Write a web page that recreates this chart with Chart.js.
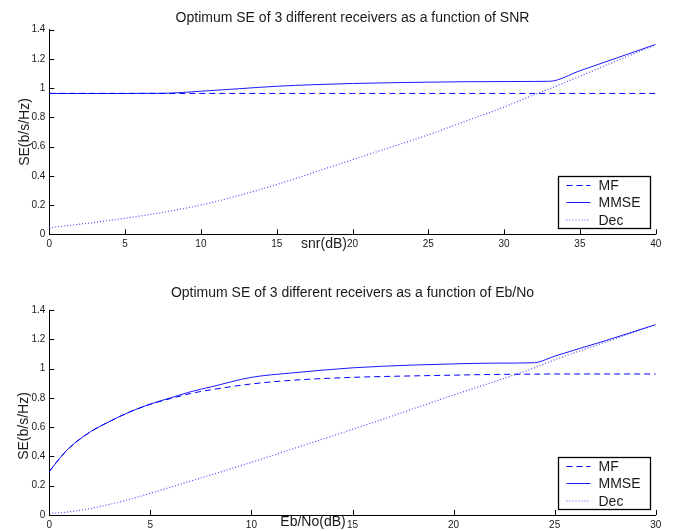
<!DOCTYPE html>
<html>
<head>
<meta charset="utf-8">
<script src="https://cdn.jsdelivr.net/npm/chart.js@4.4.1/dist/chart.umd.min.js"></script>
<style>
  html, body { margin: 0; padding: 0; background: #fff; }
  #wrap { position: relative; width: 674px; height: 531px; }
  canvas { position: absolute; left: 0; }
</style>
</head>
<body>
<div id="wrap">
  <canvas id="topChart" width="674" height="280" style="top:0"></canvas>
  <canvas id="bottomChart" width="674" height="251" style="top:280px"></canvas>
</div>
<script>
// ---- data ----
const seriesNames = ['MF', 'MMSE', 'Dec'];

// top plot: SE vs snr(dB)
const snrDb = [0, 2.5, 5, 7.5, 10, 12.5, 15, 17.5, 20, 22.5, 25, 27.5, 30, 32, 33, 35, 37.5, 40];
const mfSnr = [0.963, 0.963, 0.963, 0.963, 0.963, 0.963, 0.963, 0.963, 0.963, 0.963, 0.963, 0.963, 0.963, 0.963, 0.963, 0.963, 0.963, 0.963];
const mmseSnr = [0.963, 0.963, 0.963, 0.964, 0.978, 0.995, 1.012, 1.023, 1.031, 1.036, 1.040, 1.043, 1.044, 1.045, 1.046, 1.118, 1.208, 1.298];
const decSnr = [0.045, 0.075, 0.11, 0.15, 0.20, 0.265, 0.34, 0.425, 0.51, 0.595, 0.68, 0.775, 0.87, 0.955, 0.995, 1.08, 1.19, 1.295];

// bottom plot: SE vs Eb/No(dB)
const ebNoDb = [0, 0.5, 1, 2, 3, 4, 5, 6, 7, 8, 10, 12, 15, 18, 20, 22, 24, 25, 27.5, 30];
const mfEbNo = [0.296, 0.385, 0.46, 0.565, 0.64, 0.705, 0.756, 0.795, 0.83, 0.855, 0.895, 0.92, 0.94, 0.95, 0.955, 0.96, 0.962, 0.963, 0.963, 0.963];
const mmseEbNo = [0.296, 0.385, 0.46, 0.565, 0.64, 0.705, 0.758, 0.80, 0.842, 0.875, 0.94, 0.97, 1.005, 1.024, 1.032, 1.037, 1.04, 1.085, 1.19, 1.30];
const decEbNo = [0.011, 0.015, 0.022, 0.043, 0.073, 0.108, 0.148, 0.19, 0.232, 0.274, 0.36, 0.45, 0.585, 0.725, 0.82, 0.91, 1.005, 1.06, 1.18, 1.30];

// tick labels
const snrTicks = ['0', '5', '10', '15', '20', '25', '30', '35', '40'];
const ebNoTicks = ['0', '5', '10', '15', '20', '25', '30'];
const seTicks = ['0', '0.2', '0.4', '0.6', '0.8', '1', '1.2', '1.4'];

const FONT = '"Liberation Sans", Arial, Helvetica, sans-serif';
const INK = '#1a1a1a';

function pts(xs, ys) {
  return xs.map((x, i) => ({ x: x, y: ys[i] }));
}

function makeDatasets(xs, mf, mmse, dec) {
  return [
    { label: seriesNames[0], data: pts(xs, mf), borderColor: '#0000ff', borderWidth: 1, borderDash: [6, 4] },
    { label: seriesNames[1], data: pts(xs, mmse), borderColor: '#1a1aff', borderWidth: 1 },
    { label: seriesNames[2], data: pts(xs, dec), borderColor: '#4a4aff', borderWidth: 1.2, borderDash: [1, 2] }
  ];
}

// matlab style: inward ticks, boxed legend, free-placed labels
const matlabLook = {
  id: 'matlabLook',
  afterDatasetsDraw(chart, args, opts) {
    const ctx = chart.ctx;
    const area = chart.chartArea;
    const xs = chart.scales.x, ys = chart.scales.y;
    ctx.save();
    ctx.strokeStyle = '#000';
    ctx.lineWidth = 1;
    ctx.beginPath();
    xs.ticks.forEach(t => {
      const px = Math.round(xs.getPixelForValue(t.value)) + 0.5;
      ctx.moveTo(px, area.bottom);
      ctx.lineTo(px, area.bottom - 5);
    });
    ys.ticks.forEach(t => {
      const py = Math.round(ys.getPixelForValue(t.value)) + 0.5;
      ctx.moveTo(area.left, py);
      ctx.lineTo(area.left + 5, py);
    });
    ctx.stroke();

    // legend box
    const bw = 92, bh = 52;
    const bx = Math.round(area.right - 5.7 - bw) + 0.5;
    const by = Math.round(area.bottom - 6 - bh) + 0.5;
    ctx.fillStyle = '#fff';
    ctx.fillRect(bx, by, bw, bh);
    ctx.strokeStyle = '#000';
    ctx.lineWidth = 1.3;
    ctx.strokeRect(bx, by, bw, bh);
    const rows = [9, 26, 43.5];
    ctx.font = '14px ' + FONT;
    ctx.textBaseline = 'middle';
    ctx.textAlign = 'left';
    chart.data.datasets.forEach((ds, i) => {
      const ry = by + rows[i];
      ctx.beginPath();
      ctx.strokeStyle = ds.borderColor;
      ctx.lineWidth = ds.borderWidth;
      ctx.setLineDash(ds.borderDash || []);
      ctx.moveTo(bx + 8, ry);
      ctx.lineTo(bx + 32, ry);
      ctx.stroke();
      ctx.setLineDash([]);
      ctx.fillStyle = INK;
      ctx.fillText(ds.label, bx + 40, ry + 1);
    });

    // title and axis labels
    ctx.fillStyle = INK;
    ctx.textAlign = 'center';
    ctx.font = '14px ' + FONT;
    ctx.fillText(opts.title, (area.left + area.right) / 2, opts.titleY);
    ctx.fillText(opts.xLabel, opts.xLabelX, opts.xLabelY);
    ctx.translate(opts.yLabelX, opts.yLabelY);
    ctx.rotate(-Math.PI / 2);
    ctx.fillText('SE(b/s/Hz)', 0, 0);
    ctx.restore();
  }
};

function makeChart(id, xs, mf, mmse, dec, xMax, xStep, xTicks, pad, xScaleH, labels) {
  return new Chart(document.getElementById(id), {
    type: 'line',
    data: { datasets: makeDatasets(xs, mf, mmse, dec) },
    options: {
      responsive: false,
      animation: false,
      devicePixelRatio: 1,
      elements: { point: { radius: 0 }, line: { cubicInterpolationMode: 'monotone' } },
      layout: { padding: pad },
      plugins: {
        legend: { display: false },
        tooltip: { enabled: false },
        matlabLook: labels
      },
      scales: {
        x: {
          type: 'linear', min: 0, max: xMax,
          ticks: {
            stepSize: xStep, padding: 4, color: INK, maxRotation: 0,
            font: { family: FONT, size: 10 },
            callback: (v, i) => xTicks[i]
          },
          grid: { display: false, drawTicks: false },
          border: { display: true, color: '#000', width: 1 },
          afterFit: s => { s.height = xScaleH; }
        },
        y: {
          min: 0, max: 1.4,
          ticks: {
            stepSize: 0.2, padding: 4, color: INK,
            font: { family: FONT, size: 10 },
            callback: (v, i) => seTicks[i]
          },
          grid: { display: false, drawTicks: false },
          border: { display: true, color: '#000', width: 1 },
          afterFit: s => { s.width = 49.3; }
        }
      }
    },
    plugins: [matlabLook]
  });
}

makeChart('topChart', snrDb, mfSnr, mmseSnr, decSnr, 40, 5, snrTicks,
  { left: 0, right: 18.3, top: 29.5, bottom: 0 }, 45.7,
  { title: 'Optimum SE of 3 different receivers as a function of SNR', titleY: 18,
    xLabel: 'snr(dB)', xLabelX: 324, xLabelY: 244, yLabelX: 25, yLabelY: 132 });

makeChart('bottomChart', ebNoDb, mfEbNo, mmseEbNo, decEbNo, 30, 5, ebNoTicks,
  { left: 0, right: 18.3, top: 30, bottom: 0 }, 16,
  { title: 'Optimum SE of 3 different receivers as a function of Eb/No', titleY: 13,
    xLabel: 'Eb/No(dB)', xLabelX: 313, xLabelY: 242, yLabelX: 24, yLabelY: 146 });
</script>
</body>
</html>
